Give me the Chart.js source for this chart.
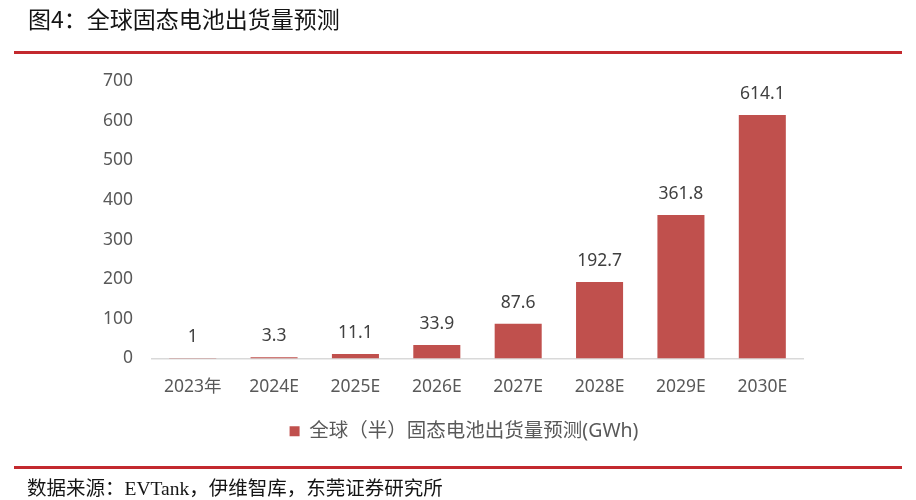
<!DOCTYPE html>
<html>
<head>
<meta charset="utf-8">
<script src="https://cdn.jsdelivr.net/npm/chart.js@4"></script>
<style>
  html, body { margin:0; padding:0; background:#fff; }
  #wrap { position:relative; width:916px; height:500px; overflow:hidden; }
  #c { position:absolute; left:0; top:0; }
  .title { position:absolute; left:28px; top:1px; font-family:"Noto Sans CJK SC", sans-serif; font-size:23px; color:#141414; white-space:nowrap; }
  .rule { position:absolute; left:14px; width:888px; height:3px; background:#c3292e; }
  .src { position:absolute; left:27px; top:472px; font-family:"Liberation Serif", "Noto Sans CJK SC", serif; font-size:19.5px; color:#141414; white-space:nowrap; }
</style>
</head>
<body>
<div id="wrap">
  <canvas id="c" width="916" height="500"></canvas>
  <div class="title">图4：全球固态电池出货量预测</div>
  <div class="rule" style="top:51px"></div>
  <div class="rule" style="top:466px"></div>
  <div class="src">数据来源：EVTank，伊维智库，东莞证券研究所</div>
</div>
<script>
const categories = ["2023年", "2024E", "2025E", "2026E", "2027E", "2028E", "2029E", "2030E"];
const shipments = [1, 3.3, 11.1, 33.9, 87.6, 192.7, 361.8, 614.1];
const seriesName = "全球（半）固态电池出货量预测(GWh)";
const yTicks = [0, 100, 200, 300, 400, 500, 600, 700];

const FONT = '"Noto Sans", "Noto Sans CJK SC", sans-serif';

const valueLabels = {
  id: 'valueLabels',
  afterDatasetsDraw(chart) {
    const ctx = chart.ctx;
    const meta = chart.getDatasetMeta(0);
    ctx.save();
    ctx.font = '17.5px ' + FONT;
    ctx.fillStyle = '#404040';
    ctx.textAlign = 'center';
    ctx.textBaseline = 'middle';
    meta.data.forEach((bar, i) => {
      ctx.fillText(String(shipments[i]), bar.x, bar.y - 21);
    });
    ctx.restore();
  }
};

const padLeft = 90, padRight = 78;
new Chart(document.getElementById('c'), {
  type: 'bar',
  data: {
    labels: categories,
    datasets: [{
      label: seriesName,
      data: shipments,
      backgroundColor: '#c0504d',
      borderWidth: 0,
      barPercentage: 0.578,
      categoryPercentage: 1.0
    }]
  },
  options: {
    responsive: false,
    animation: false,
    devicePixelRatio: 1,
    layout: { padding: { left: padLeft, right: padRight, top: 81, bottom: 49 } },
    plugins: {
      legend: {
        position: 'bottom',
        labels: {
          boxWidth: 10, boxHeight: 10, padding: 10,
          color: '#595959',
          font: { family: FONT, size: 19.5 }
        }
      },
      tooltip: { enabled: false }
    },
    scales: {
      x: {
        grid: { display: false, drawTicks: false },
        border: { display: true, color: '#d9d9d9', width: 1.5 },
        ticks: { color: '#595959', padding: 18, font: { family: FONT, size: 17.5 } },
        afterFit(s) { s.height = 53; }
      },
      y: {
        min: 0, max: 700,
        grid: { display: false, drawTicks: false },
        border: { display: false },
        ticks: {
          stepSize: 100,
          color: '#595959',
          padding: 19,
          font: { family: FONT, size: 17.5 },
          callback: (v) => yTicks.includes(v) ? String(v) : ''
        },
        afterFit(s) { s.width = 152 - padLeft; }
      },
      spacer: {
        type: 'linear',
        position: 'right',
        display: true,
        grid: { display: false, drawTicks: false },
        border: { display: false },
        ticks: { display: false },
        afterFit(s) { s.width = 803 - (916 - padRight) < 0 ? (916 - padRight) - 803 : 0; }
      }
    }
  },
  plugins: [valueLabels]
});
</script>
</body>
</html>
